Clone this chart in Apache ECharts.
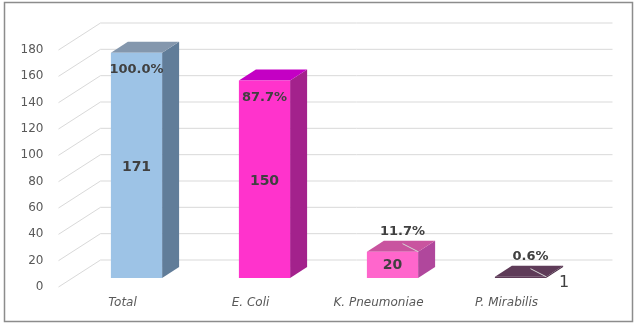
<!DOCTYPE html>
<html>
<head>
<meta charset="utf-8">
<script src="https://cdn.jsdelivr.net/npm/echarts@6/dist/echarts.min.js"></script>
<style>
  html, body { margin: 0; padding: 0; background: #fff; }
  #chart { width: 638px; height: 325px; }
</style>
</head>
<body>
<div id="chart"></div>
<script>
// data
var categories = ['Total', 'E. Coli', 'K. Pneumoniae', 'P. Mirabilis'];
var counts = [171, 150, 20, 1];
var percents = ['100.0%', '87.7%', '11.7%', '0.6%'];
var yTicks = [0, 20, 40, 60, 80, 100, 120, 140, 160, 180];

// bar colours: front / side / top
var frontColors = ['#9dc3e6', '#ff33cc', '#ff66cc', '#5e3b58'];
var sideColors = ['#617d99', '#a3228c', '#b0479c', '#4a2c45'];
var topColors = ['#8497ad', '#c400c4', '#c9549f', '#5e3b58'];

var DX = 42, DY = -27;      // depth of the floor
var BDX = 17, BDY = -11;    // depth of a bar
var FONT = '"DejaVu Sans", sans-serif';

var chart = echarts.init(document.getElementById('chart'));

function renderGrid(params, api) {
  var cs = params.coordSys;
  var y = api.coord([0, api.value(1)])[1];
  var x0 = cs.x, x1 = cs.x + cs.width;
  var st = { stroke: '#d9d9d9', lineWidth: 1 };
  return {
    type: 'group',
    children: [
      { type: 'line', shape: { x1: x0, y1: y, x2: x0 + DX, y2: y + DY }, style: st },
      { type: 'line', shape: { x1: x0 + DX, y1: y + DY, x2: x1 + DX, y2: y + DY }, style: st }
    ]
  };
}

function renderBar(params, api) {
  var i = api.value(0), v = api.value(1);
  var base = api.coord([i, 0]);
  var top = api.coord([i, v]);
  var w = api.size([1, 0])[0] * 0.4;
  var cx = base[0] + DX / 3;
  var xl = cx - w / 2, xr = cx + w / 2;
  var yb = base[1] + DY / 3, yt = top[1] + DY / 3;
  var kids = [
    { type: 'polygon', shape: { points: [[xr, yt], [xr + BDX, yt + BDY], [xr + BDX, yb + BDY], [xr, yb]] },
      style: { fill: sideColors[i] } },
    { type: 'polygon', shape: { points: [[xl, yt], [xl + BDX, yt + BDY], [xr + BDX, yt + BDY], [xr, yt]] },
      style: { fill: topColors[i] } },
    { type: 'rect', shape: { x: xl, y: yt, width: w, height: Math.max(yb - yt, 0.5) },
      style: { fill: frontColors[i] } }
  ];
  var h = yb - yt;
  if (h > 60) {
    kids.push({ type: 'text', style: { text: percents[i], x: cx, y: yt + 17, align: 'center', verticalAlign: 'middle',
      font: 'bold 13px ' + FONT, fill: '#404040' } });
    kids.push({ type: 'text', style: { text: String(counts[i]), x: cx, y: (yt + yb) / 2 + 2, align: 'center', verticalAlign: 'middle',
      font: 'bold 14px ' + FONT, fill: '#404040' } });
  } else {
    kids.push({ type: 'line', shape: { x1: cx + 10, y1: yt + BDY + 3, x2: xr, y2: yt },
      style: { stroke: '#d6d6d6', lineWidth: 1 } });
    kids.push({ type: 'text', style: { text: percents[i], x: cx + 10, y: yt + BDY - 9, align: 'center', verticalAlign: 'middle',
      font: 'bold 13px ' + FONT, fill: '#404040' } });
    if (h >= 18) {
      kids.push({ type: 'text', style: { text: String(counts[i]), x: cx, y: (yt + yb) / 2 + 1, align: 'center', verticalAlign: 'middle',
        font: 'bold 14px ' + FONT, fill: '#404040' } });
    } else {
      kids.push({ type: 'text', style: { text: String(counts[i]), x: xr + 13, y: yb + 5, align: 'left', verticalAlign: 'middle',
        font: '16px ' + FONT, fill: '#404040' } });
    }
  }
  return { type: 'group', children: kids };
}

var option = {
  animation: false,
  backgroundColor: '#fff',
  graphic: [{
    type: 'rect',
    shape: { x: 4.5, y: 2.5, width: 628, height: 319 },
    style: { fill: 'none', stroke: '#8c8c8c', lineWidth: 1.5 },
    silent: true
  }],
  grid: { left: 58.5, top: 50, width: 512, height: 237 },
  xAxis: {
    type: 'category',
    data: categories,
    axisLine: { show: false },
    axisTick: { show: false },
    axisLabel: { margin: 10, color: '#595959', fontSize: 12, fontStyle: 'italic', fontFamily: FONT }
  },
  yAxis: {
    type: 'value',
    min: 0,
    max: 180,
    interval: 20,
    axisLine: { show: false },
    axisTick: { show: false },
    splitLine: { show: false },
    axisLabel: { margin: 15, color: '#595959', fontSize: 12, fontFamily: FONT }
  },
  series: [
    {
      type: 'custom',
      renderItem: renderGrid,
      encode: { x: 0, y: 1 },
      data: yTicks.map(function (t) { return [0, t]; }),
      silent: true,
      z: 1
    },
    {
      type: 'custom',
      renderItem: renderBar,
      encode: { x: 0, y: 1 },
      data: counts.map(function (c, i) { return [i, c]; }),
      z: 2
    }
  ]
};
chart.setOption(option);
</script>
</body>
</html>
